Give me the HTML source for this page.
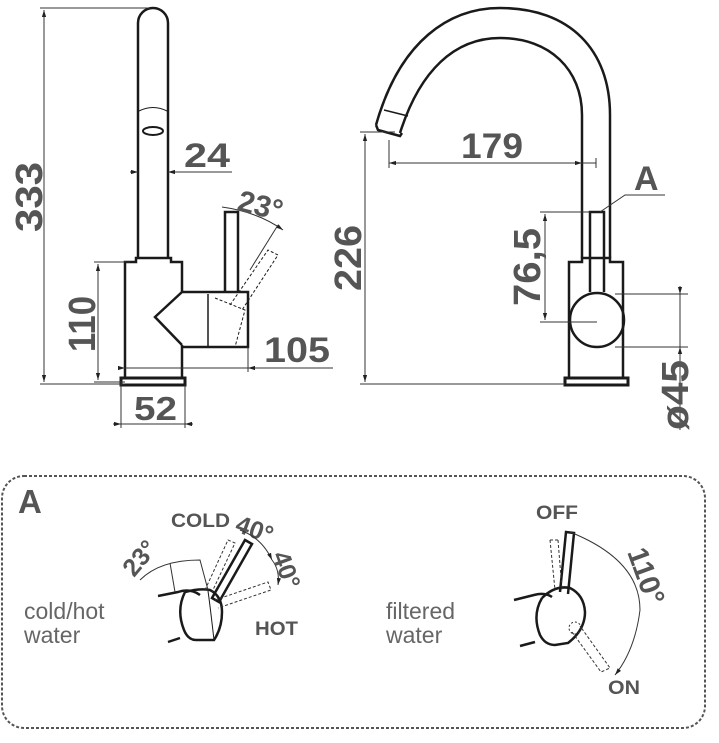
<!DOCTYPE html>
<html><head><meta charset="utf-8"><style>
html,body{margin:0;padding:0;background:#fff;}
svg{display:block;}
.d{font-family:"Liberation Sans",sans-serif;font-weight:bold;fill:#555;}
.l{font-family:"Liberation Sans",sans-serif;fill:#666;}
</style></head><body>
<svg width="719" height="743" viewBox="0 0 719 743" xmlns="http://www.w3.org/2000/svg">
<defs>
<marker id="ar" viewBox="0 0 10 10" refX="10" refY="5" markerWidth="7" markerHeight="7" orient="auto-start-reverse"><path d="M0,2 L10,5 L0,8 z" fill="#222"/></marker>
</defs>
<g fill="none" stroke="#1a1a1a" stroke-width="2.5">
<path d="M138,257 L138,23 A15,15 0 0 1 168,23 L168,257"/>
<path d="M139,111 Q153,104 167,111" stroke-width="1"/>
<ellipse cx="153" cy="131" rx="10" ry="4" stroke-width="2"/>
<path d="M125,378 L125,262 L136,262 L136,258 L171,258 L171,262 L182,262 L182,292 M182,345 L182,378"/>
<path d="M121,385 L121,378 L185,378 L185,385 Z" stroke-width="3"/>
<path d="M182,292 L248,292 L248,347 L182,347 M182,292 L155,317 L182,345" />
<path d="M208,294 L208,346" stroke-width="1.5"/>
<path d="M225,292 L225,212 L238,212 L238,292"/>
<path d="M230,305 L268,250 L278,255 L242,310 M215,298 L245,310 L235,347" stroke-width="1" stroke-dasharray="3,2"/>
<path d="M376,125 C400,40 450,8 500,8 C570,8 610,50 610,115 L610,258"/>
<path d="M400,133 C420,70 455,38 500,38 C550,38 582,70 582,115 L582,258"/>
<path d="M384,110 L408,116" stroke-width="1.5"/>
<path d="M376,125 L378,130 L400,136 L402,133"/>
<path d="M569,378 L569,262 L582,262 L582,258 L610,258 L610,262 L623,262 L623,378"/>
<path d="M565,385 L565,378 L628,378 L628,385 Z" stroke-width="3"/>
<path d="M590,292 L590,212 L604,212 L604,292"/>
<circle cx="597" cy="320" r="27"/>
</g>
<g stroke="#333" stroke-width="1" fill="none">
<path d="M40,8 L150,8 M40,384 L125,384 M94,262 L130,262 M94,382 L125,382"/>
<path d="M44,10 L44,382" marker-start="url(#ar)" marker-end="url(#ar)"/>
<path d="M98,264 L98,380" marker-start="url(#ar)" marker-end="url(#ar)"/>
<path d="M130,172 L138,172 M168,172 L232,172" />
<path d="M130,172 L138,172" marker-end="url(#ar)"/>
<path d="M176,172 L168,172" marker-end="url(#ar)"/>
<path d="M118,368 L125,368" marker-end="url(#ar)"/>
<path d="M333,368 L248,368" marker-end="url(#ar)"/>
<path d="M125,368 L248,368 M248,347 L248,372"/>
<path d="M121,385 L121,428 M185,385 L185,428"/>
<path d="M113,424 L121,424" marker-end="url(#ar)"/>
<path d="M193,424 L185,424" marker-end="url(#ar)"/>
<path d="M121,424 L185,424"/>
<path d="M222,207 Q258,212 283,230" marker-end="url(#ar)"/>
<path d="M278,225 L250,270"/>
<path d="M360,132 L395,132 M360,384 L565,384"/>
<path d="M365,134 L365,382" marker-start="url(#ar)" marker-end="url(#ar)"/>
<path d="M389,163 L596,163 M389,140 L389,168 M596,158 L596,168"/>
<path d="M396,163 L389,163" marker-end="url(#ar)"/>
<path d="M575,163 L582,163" marker-end="url(#ar)"/>
<path d="M540,212 L590,212 M540,322 L597,322"/>
<path d="M545,214 L545,320" marker-start="url(#ar)" marker-end="url(#ar)"/>
<path d="M600,212 L625,195 L665,195"/>
<path d="M615,294 L688,294 M615,347 L688,347"/>
<path d="M680,286 L680,294" marker-end="url(#ar)"/>
<path d="M680,355 L680,347" marker-end="url(#ar)"/>
<path d="M680,294 L680,347 M680,355 L680,430"/>
</g>
<g class="d" font-size="38" lengthAdjust="spacingAndGlyphs">
<text transform="translate(42,232) rotate(-90)" textLength="70" lengthAdjust="spacingAndGlyphs">333</text>
<text transform="translate(95,352) rotate(-90)" textLength="56" lengthAdjust="spacingAndGlyphs">110</text>
<text x="184" y="167" font-size="34" textLength="46" lengthAdjust="spacingAndGlyphs">24</text>
<text font-size="30" transform="translate(236,210) rotate(14)">23°</text>
<text x="264" y="362" font-size="35" textLength="66" lengthAdjust="spacingAndGlyphs">105</text>
<text x="134" y="420" font-size="33" textLength="43" lengthAdjust="spacingAndGlyphs">52</text>
<text x="461" y="158" font-size="35" textLength="62" lengthAdjust="spacingAndGlyphs">179</text>
<text x="634" y="190" font-size="34">A</text>
<text transform="translate(361,291) rotate(-90)" textLength="66" lengthAdjust="spacingAndGlyphs">226</text>
<text transform="translate(540,306) rotate(-90)" textLength="78" lengthAdjust="spacingAndGlyphs">76,5</text>
<text transform="translate(688,430) rotate(-90)" textLength="70" lengthAdjust="spacingAndGlyphs">ø45</text>
</g>
<rect x="2" y="476" width="703" height="252" rx="22" fill="none" stroke="#555" stroke-width="2" stroke-dasharray="3,2"/>
<text class="d" x="18" y="513" font-size="33">A</text>
<text class="l" x="24" y="619" font-size="23">cold/hot</text>
<text class="l" x="24" y="643" font-size="23">water</text>
<text class="l" x="386" y="619" font-size="23">filtered</text>
<text class="l" x="386" y="643" font-size="23">water</text>
<g class="d" font-size="19">
<text x="171" y="527" textLength="59" lengthAdjust="spacingAndGlyphs">COLD</text>
<text x="255" y="635" textLength="43" lengthAdjust="spacingAndGlyphs">HOT</text>
<text x="536" y="519" textLength="42" lengthAdjust="spacingAndGlyphs">OFF</text>
<text x="608" y="694" textLength="32" lengthAdjust="spacingAndGlyphs">ON</text>
</g>
<g class="d" font-size="25">
<text transform="translate(234,531) rotate(20)">40°</text>
<text transform="translate(272,555) rotate(70)">40°</text>
<text transform="translate(134,578) rotate(-50)">23°</text>
<text transform="translate(627,552) rotate(70)" font-size="29">110°</text>
</g>
<g fill="none" stroke="#1a1a1a" stroke-width="2.5">
<path d="M158,596 L178,592 Q190,588 200,595 M168,642 L180,638"/>
<path d="M185,592 Q176,610 184,630 Q188,640 196,640 L214,640 Q222,628 222,612 Q222,596 210,590 Q200,588 185,592"/>
<path d="M208,591 Q210,605 214,640" stroke-width="1"/>
<path d="M212,598 L245,540 L252,544 L219,602 Z"/>
</g>
<g fill="none" stroke="#333" stroke-width="1">
<path d="M205,590 L228,540 L235,543 L212,592" stroke-dasharray="3,2"/>
<path d="M215,600 L268,582 L271,590 L218,608" stroke-dasharray="3,2"/>
<path d="M140,580 Q160,560 200,560 L208,590 M175,592 L170,563"/>
<path d="M240,530 Q262,538 272,560" marker-end="url(#ar)"/>
<path d="M272,560 Q280,570 278,585" marker-end="url(#ar)"/>
</g>
<g fill="none" stroke="#1a1a1a" stroke-width="2.5">
<path d="M514,600 L534,595 Q545,592 552,597 M520,646 L535,642"/>
<path d="M542,598 Q532,615 540,635 Q545,645 555,645 L568,643 Q585,630 585,612 Q584,595 570,588 Q555,585 542,598"/>
<path d="M560,592 L566,532 L574,533 L568,594"/>
</g>
<g fill="none" stroke="#333" stroke-width="1">
<path d="M550,540 L555,590 M558,540 L562,590 M550,540 L558,540" stroke-dasharray="3,2"/>
<circle cx="575" cy="628" r="6" stroke-dasharray="2,2"/>
<path d="M572,632 L601,672 L610,668 L580,626" stroke-dasharray="3,2"/>
<path d="M570,532 Q640,560 640,610 Q635,650 615,675" marker-end="url(#ar)"/>
</g>
</svg>
</body></html>
